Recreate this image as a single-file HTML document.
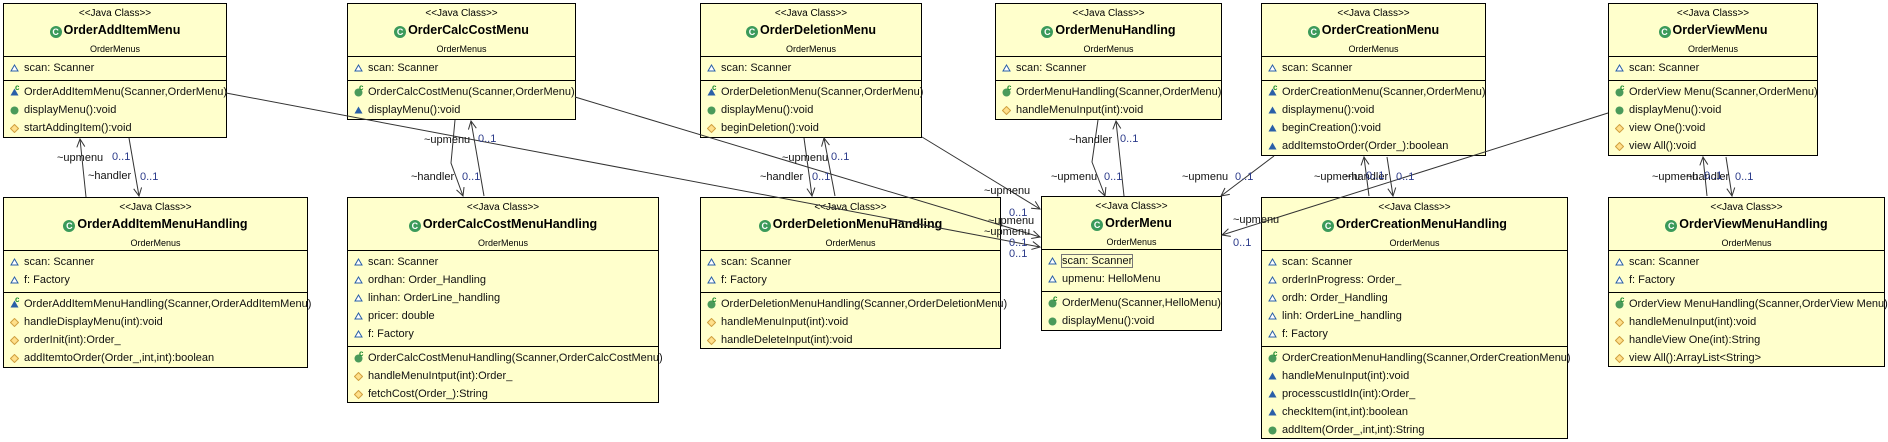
<!DOCTYPE html>
<html><head><meta charset="utf-8"><style>
body{margin:0;width:1888px;height:442px;background:#fff;position:relative;overflow:hidden;font-family:"Liberation Sans",Arial,sans-serif;}
.b{position:absolute;background:#ffffcc;border:1px solid #000;box-sizing:border-box;}
.h{height:52px;border-bottom:1px solid #000;text-align:center;position:relative}
.st{position:absolute;left:0;right:0;top:4px;font-size:10px;line-height:12px}
.t{position:absolute;left:0;right:0;top:19px;font-size:12.5px;font-weight:bold;line-height:15px}
.p{position:absolute;left:0;right:0;top:40px;font-size:9px;line-height:10px}
.g{display:inline-block;width:12px;height:12px;border-radius:50%;background:#3b9a5a;color:#fff;font-size:9px;line-height:12px;vertical-align:-1px;margin-right:2px;font-weight:bold;text-align:center}
.s{border-bottom:1px solid #000;padding:2px 0 3px 0}
.s:last-child{border-bottom:none}
.r{height:18px;line-height:18px;font-size:11px;white-space:nowrap;padding-left:20px;position:relative;color:#111}
.r svg{position:absolute;left:6px;top:5px}
.k{position:absolute;left:11px;top:-4px;font-size:8px;color:#1a8a2a;font-weight:bold}
.l{position:absolute;font-size:11px;line-height:12px;white-space:nowrap;color:#111}
.m{color:#2b3a8a}
</style></head><body>
<svg width="1888" height="442" style="position:absolute;left:0;top:0;z-index:2;pointer-events:none" fill="none" stroke="#333" stroke-width="1">
<defs><marker id="a" markerWidth="10" markerHeight="10" refX="9" refY="5" orient="auto" markerUnits="userSpaceOnUse"><path d="M1,1 L9,5 L1,9" stroke="#333" fill="none"/></marker></defs>
<line x1="86" y1="197" x2="80" y2="139" marker-end="url(#a)"/>
<line x1="129" y1="138" x2="139" y2="196" marker-end="url(#a)"/>
<line x1="226" y1="93" x2="1040" y2="247" marker-end="url(#a)"/>
<line x1="575" y1="97" x2="1040" y2="237" marker-end="url(#a)"/>
<polyline points="455,120 451,163 463,196" marker-end="url(#a)"/>
<line x1="484" y1="196" x2="471" y2="121" marker-end="url(#a)"/>
<line x1="804" y1="138" x2="812" y2="196" marker-end="url(#a)"/>
<line x1="835" y1="196" x2="824" y2="138" marker-end="url(#a)"/>
<line x1="922" y1="137" x2="1040" y2="209" marker-end="url(#a)"/>
<polyline points="1098,120 1092,162 1105,196" marker-end="url(#a)"/>
<line x1="1124" y1="196" x2="1116" y2="121" marker-end="url(#a)"/>
<line x1="1274" y1="156" x2="1221" y2="196" marker-end="url(#a)"/>
<line x1="1608" y1="113" x2="1222" y2="235" marker-end="url(#a)"/>
<line x1="1369" y1="196" x2="1364" y2="157" marker-end="url(#a)"/>
<line x1="1387" y1="157" x2="1393" y2="196" marker-end="url(#a)"/>
<line x1="1707" y1="196" x2="1703" y2="157" marker-end="url(#a)"/>
<line x1="1726" y1="157" x2="1732" y2="196" marker-end="url(#a)"/>
</svg>

<div id="boxes"></div>

<!-- icons defined as small svgs -->
<div class="b" style="left:3px;top:3px;width:224px;height:135px"><div class="h"><div class="st">&lt;&lt;Java Class&gt;&gt;</div><div class="t"><span class="g">C</span>OrderAddItemMenu</div><div class="p">OrderMenus</div></div>
<div class="s"><div class="r"><svg width="9" height="8"><path d="M4.5,1 L8,7 L1,7Z" fill="#fff" stroke="#2a5fa8"/></svg>scan: Scanner</div></div>
<div class="s"><div class="r"><svg width="9" height="8"><path d="M4.5,0.5 L8.5,7.5 L0.5,7.5Z" fill="#2a5fa8"/></svg><span class="k">c</span>OrderAddItemMenu(Scanner,OrderMenu)</div>
<div class="r"><svg width="9" height="9"><circle cx="4.5" cy="4.5" r="4" fill="#4a9a5a"/></svg>displayMenu():void</div>
<div class="r"><svg width="9" height="9"><path d="M4.5,0.5 L8.5,4.5 L4.5,8.5 L0.5,4.5Z" fill="#ffe08a" stroke="#d0a040"/></svg>startAddingItem():void</div></div></div>

<div class="b" style="left:347px;top:3px;width:229px;height:117px"><div class="h"><div class="st">&lt;&lt;Java Class&gt;&gt;</div><div class="t"><span class="g">C</span>OrderCalcCostMenu</div><div class="p">OrderMenus</div></div>
<div class="s"><div class="r"><svg width="9" height="8"><path d="M4.5,1 L8,7 L1,7Z" fill="#fff" stroke="#2a5fa8"/></svg>scan: Scanner</div></div>
<div class="s"><div class="r"><svg width="9" height="9"><circle cx="4.5" cy="4.5" r="4" fill="#4a9a5a"/></svg><span class="k">c</span>OrderCalcCostMenu(Scanner,OrderMenu)</div>
<div class="r"><svg width="9" height="8"><path d="M4.5,0.5 L8.5,7.5 L0.5,7.5Z" fill="#2a5fa8"/></svg>displayMenu():void</div></div></div>

<div class="b" style="left:700px;top:3px;width:222px;height:135px"><div class="h"><div class="st">&lt;&lt;Java Class&gt;&gt;</div><div class="t"><span class="g">C</span>OrderDeletionMenu</div><div class="p">OrderMenus</div></div>
<div class="s"><div class="r"><svg width="9" height="8"><path d="M4.5,1 L8,7 L1,7Z" fill="#fff" stroke="#2a5fa8"/></svg>scan: Scanner</div></div>
<div class="s"><div class="r"><svg width="9" height="8"><path d="M4.5,0.5 L8.5,7.5 L0.5,7.5Z" fill="#2a5fa8"/></svg><span class="k">c</span>OrderDeletionMenu(Scanner,OrderMenu)</div>
<div class="r"><svg width="9" height="9"><circle cx="4.5" cy="4.5" r="4" fill="#4a9a5a"/></svg>displayMenu():void</div>
<div class="r"><svg width="9" height="9"><path d="M4.5,0.5 L8.5,4.5 L4.5,8.5 L0.5,4.5Z" fill="#ffe08a" stroke="#d0a040"/></svg>beginDeletion():void</div></div></div>

<div class="b" style="left:995px;top:3px;width:227px;height:117px"><div class="h"><div class="st">&lt;&lt;Java Class&gt;&gt;</div><div class="t"><span class="g">C</span>OrderMenuHandling</div><div class="p">OrderMenus</div></div>
<div class="s"><div class="r"><svg width="9" height="8"><path d="M4.5,1 L8,7 L1,7Z" fill="#fff" stroke="#2a5fa8"/></svg>scan: Scanner</div></div>
<div class="s"><div class="r"><svg width="9" height="9"><circle cx="4.5" cy="4.5" r="4" fill="#4a9a5a"/></svg><span class="k">c</span>OrderMenuHandling(Scanner,OrderMenu)</div>
<div class="r"><svg width="9" height="9"><path d="M4.5,0.5 L8.5,4.5 L4.5,8.5 L0.5,4.5Z" fill="#ffe08a" stroke="#d0a040"/></svg>handleMenuInput(int):void</div></div></div>

<div class="b" style="left:1261px;top:3px;width:225px;height:153px"><div class="h"><div class="st">&lt;&lt;Java Class&gt;&gt;</div><div class="t"><span class="g">C</span>OrderCreationMenu</div><div class="p">OrderMenus</div></div>
<div class="s"><div class="r"><svg width="9" height="8"><path d="M4.5,1 L8,7 L1,7Z" fill="#fff" stroke="#2a5fa8"/></svg>scan: Scanner</div></div>
<div class="s"><div class="r"><svg width="9" height="8"><path d="M4.5,0.5 L8.5,7.5 L0.5,7.5Z" fill="#2a5fa8"/></svg><span class="k">c</span>OrderCreationMenu(Scanner,OrderMenu)</div>
<div class="r"><svg width="9" height="8"><path d="M4.5,0.5 L8.5,7.5 L0.5,7.5Z" fill="#2a5fa8"/></svg>displaymenu():void</div>
<div class="r"><svg width="9" height="8"><path d="M4.5,0.5 L8.5,7.5 L0.5,7.5Z" fill="#2a5fa8"/></svg>beginCreation():void</div>
<div class="r"><svg width="9" height="8"><path d="M4.5,0.5 L8.5,7.5 L0.5,7.5Z" fill="#2a5fa8"/></svg>addItemstoOrder(Order_):boolean</div></div></div>

<div class="b" style="left:1608px;top:3px;width:210px;height:153px"><div class="h"><div class="st">&lt;&lt;Java Class&gt;&gt;</div><div class="t"><span class="g">C</span>OrderViewMenu</div><div class="p">OrderMenus</div></div>
<div class="s"><div class="r"><svg width="9" height="8"><path d="M4.5,1 L8,7 L1,7Z" fill="#fff" stroke="#2a5fa8"/></svg>scan: Scanner</div></div>
<div class="s"><div class="r"><svg width="9" height="9"><circle cx="4.5" cy="4.5" r="4" fill="#4a9a5a"/></svg><span class="k">c</span>OrderView Menu(Scanner,OrderMenu)</div>
<div class="r"><svg width="9" height="9"><circle cx="4.5" cy="4.5" r="4" fill="#4a9a5a"/></svg>displayMenu():void</div>
<div class="r"><svg width="9" height="9"><path d="M4.5,0.5 L8.5,4.5 L4.5,8.5 L0.5,4.5Z" fill="#ffe08a" stroke="#d0a040"/></svg>view One():void</div>
<div class="r"><svg width="9" height="9"><path d="M4.5,0.5 L8.5,4.5 L4.5,8.5 L0.5,4.5Z" fill="#ffe08a" stroke="#d0a040"/></svg>view All():void</div></div></div>

<div class="b" style="left:3px;top:197px;width:305px;height:171px"><div class="h"><div class="st">&lt;&lt;Java Class&gt;&gt;</div><div class="t"><span class="g">C</span>OrderAddItemMenuHandling</div><div class="p">OrderMenus</div></div>
<div class="s"><div class="r"><svg width="9" height="8"><path d="M4.5,1 L8,7 L1,7Z" fill="#fff" stroke="#2a5fa8"/></svg>scan: Scanner</div>
<div class="r"><svg width="9" height="8"><path d="M4.5,1 L8,7 L1,7Z" fill="#fff" stroke="#2a5fa8"/></svg>f: Factory</div></div>
<div class="s"><div class="r"><svg width="9" height="8"><path d="M4.5,0.5 L8.5,7.5 L0.5,7.5Z" fill="#2a5fa8"/></svg><span class="k">c</span>OrderAddItemMenuHandling(Scanner,OrderAddItemMenu)</div>
<div class="r"><svg width="9" height="9"><path d="M4.5,0.5 L8.5,4.5 L4.5,8.5 L0.5,4.5Z" fill="#ffe08a" stroke="#d0a040"/></svg>handleDisplayMenu(int):void</div>
<div class="r"><svg width="9" height="9"><path d="M4.5,0.5 L8.5,4.5 L4.5,8.5 L0.5,4.5Z" fill="#ffe08a" stroke="#d0a040"/></svg>orderInit(int):Order_</div>
<div class="r"><svg width="9" height="9"><path d="M4.5,0.5 L8.5,4.5 L4.5,8.5 L0.5,4.5Z" fill="#ffe08a" stroke="#d0a040"/></svg>addItemtoOrder(Order_,int,int):boolean</div></div></div>

<div class="b" style="left:347px;top:197px;width:312px;height:206px"><div class="h"><div class="st">&lt;&lt;Java Class&gt;&gt;</div><div class="t"><span class="g">C</span>OrderCalcCostMenuHandling</div><div class="p">OrderMenus</div></div>
<div class="s"><div class="r"><svg width="9" height="8"><path d="M4.5,1 L8,7 L1,7Z" fill="#fff" stroke="#2a5fa8"/></svg>scan: Scanner</div>
<div class="r"><svg width="9" height="8"><path d="M4.5,1 L8,7 L1,7Z" fill="#fff" stroke="#2a5fa8"/></svg>ordhan: Order_Handling</div>
<div class="r"><svg width="9" height="8"><path d="M4.5,1 L8,7 L1,7Z" fill="#fff" stroke="#2a5fa8"/></svg>linhan: OrderLine_handling</div>
<div class="r"><svg width="9" height="8"><path d="M4.5,1 L8,7 L1,7Z" fill="#fff" stroke="#2a5fa8"/></svg>pricer: double</div>
<div class="r"><svg width="9" height="8"><path d="M4.5,1 L8,7 L1,7Z" fill="#fff" stroke="#2a5fa8"/></svg>f: Factory</div></div>
<div class="s"><div class="r"><svg width="9" height="9"><circle cx="4.5" cy="4.5" r="4" fill="#4a9a5a"/></svg><span class="k">c</span>OrderCalcCostMenuHandling(Scanner,OrderCalcCostMenu)</div>
<div class="r"><svg width="9" height="9"><path d="M4.5,0.5 L8.5,4.5 L4.5,8.5 L0.5,4.5Z" fill="#ffe08a" stroke="#d0a040"/></svg>handleMenuIntput(int):Order_</div>
<div class="r"><svg width="9" height="9"><path d="M4.5,0.5 L8.5,4.5 L4.5,8.5 L0.5,4.5Z" fill="#ffe08a" stroke="#d0a040"/></svg>fetchCost(Order_):String</div></div></div>

<div class="b" style="left:700px;top:197px;width:301px;height:152px"><div class="h"><div class="st">&lt;&lt;Java Class&gt;&gt;</div><div class="t"><span class="g">C</span>OrderDeletionMenuHandling</div><div class="p">OrderMenus</div></div>
<div class="s"><div class="r"><svg width="9" height="8"><path d="M4.5,1 L8,7 L1,7Z" fill="#fff" stroke="#2a5fa8"/></svg>scan: Scanner</div>
<div class="r"><svg width="9" height="8"><path d="M4.5,1 L8,7 L1,7Z" fill="#fff" stroke="#2a5fa8"/></svg>f: Factory</div></div>
<div class="s"><div class="r"><svg width="9" height="9"><circle cx="4.5" cy="4.5" r="4" fill="#4a9a5a"/></svg><span class="k">c</span>OrderDeletionMenuHandling(Scanner,OrderDeletionMenu)</div>
<div class="r"><svg width="9" height="9"><path d="M4.5,0.5 L8.5,4.5 L4.5,8.5 L0.5,4.5Z" fill="#ffe08a" stroke="#d0a040"/></svg>handleMenuInput(int):void</div>
<div class="r"><svg width="9" height="9"><path d="M4.5,0.5 L8.5,4.5 L4.5,8.5 L0.5,4.5Z" fill="#ffe08a" stroke="#d0a040"/></svg>handleDeleteInput(int):void</div></div></div>

<div class="b" style="left:1041px;top:196px;width:181px;height:135px"><div class="h"><div class="st">&lt;&lt;Java Class&gt;&gt;</div><div class="t"><span class="g">C</span>OrderMenu</div><div class="p">OrderMenus</div></div>
<div class="s"><div class="r"><svg width="9" height="8"><path d="M4.5,1 L8,7 L1,7Z" fill="#fff" stroke="#2a5fa8"/></svg><span style="outline:1px solid #777;outline-offset:0">scan: Scanner</span></div>
<div class="r"><svg width="9" height="8"><path d="M4.5,1 L8,7 L1,7Z" fill="#fff" stroke="#2a5fa8"/></svg>upmenu: HelloMenu</div></div>
<div class="s"><div class="r"><svg width="9" height="9"><circle cx="4.5" cy="4.5" r="4" fill="#4a9a5a"/></svg><span class="k">c</span>OrderMenu(Scanner,HelloMenu)</div>
<div class="r"><svg width="9" height="9"><circle cx="4.5" cy="4.5" r="4" fill="#4a9a5a"/></svg>displayMenu():void</div></div></div>

<div class="b" style="left:1261px;top:197px;width:307px;height:242px"><div class="h"><div class="st">&lt;&lt;Java Class&gt;&gt;</div><div class="t"><span class="g">C</span>OrderCreationMenuHandling</div><div class="p">OrderMenus</div></div>
<div class="s"><div class="r"><svg width="9" height="8"><path d="M4.5,1 L8,7 L1,7Z" fill="#fff" stroke="#2a5fa8"/></svg>scan: Scanner</div>
<div class="r"><svg width="9" height="8"><path d="M4.5,1 L8,7 L1,7Z" fill="#fff" stroke="#2a5fa8"/></svg>orderInProgress: Order_</div>
<div class="r"><svg width="9" height="8"><path d="M4.5,1 L8,7 L1,7Z" fill="#fff" stroke="#2a5fa8"/></svg>ordh: Order_Handling</div>
<div class="r"><svg width="9" height="8"><path d="M4.5,1 L8,7 L1,7Z" fill="#fff" stroke="#2a5fa8"/></svg>linh: OrderLine_handling</div>
<div class="r"><svg width="9" height="8"><path d="M4.5,1 L8,7 L1,7Z" fill="#fff" stroke="#2a5fa8"/></svg>f: Factory</div></div>
<div class="s"><div class="r"><svg width="9" height="9"><circle cx="4.5" cy="4.5" r="4" fill="#4a9a5a"/></svg><span class="k">c</span>OrderCreationMenuHandling(Scanner,OrderCreationMenu)</div>
<div class="r"><svg width="9" height="8"><path d="M4.5,0.5 L8.5,7.5 L0.5,7.5Z" fill="#2a5fa8"/></svg>handleMenuInput(int):void</div>
<div class="r"><svg width="9" height="8"><path d="M4.5,0.5 L8.5,7.5 L0.5,7.5Z" fill="#2a5fa8"/></svg>processcustIdIn(int):Order_</div>
<div class="r"><svg width="9" height="8"><path d="M4.5,0.5 L8.5,7.5 L0.5,7.5Z" fill="#2a5fa8"/></svg>checkItem(int,int):boolean</div>
<div class="r"><svg width="9" height="9"><circle cx="4.5" cy="4.5" r="4" fill="#4a9a5a"/></svg>addItem(Order_,int,int):String</div></div></div>

<div class="b" style="left:1608px;top:197px;width:277px;height:170px"><div class="h"><div class="st">&lt;&lt;Java Class&gt;&gt;</div><div class="t"><span class="g">C</span>OrderViewMenuHandling</div><div class="p">OrderMenus</div></div>
<div class="s"><div class="r"><svg width="9" height="8"><path d="M4.5,1 L8,7 L1,7Z" fill="#fff" stroke="#2a5fa8"/></svg>scan: Scanner</div>
<div class="r"><svg width="9" height="8"><path d="M4.5,1 L8,7 L1,7Z" fill="#fff" stroke="#2a5fa8"/></svg>f: Factory</div></div>
<div class="s"><div class="r"><svg width="9" height="9"><circle cx="4.5" cy="4.5" r="4" fill="#4a9a5a"/></svg><span class="k">c</span>OrderView MenuHandling(Scanner,OrderView Menu)</div>
<div class="r"><svg width="9" height="9"><path d="M4.5,0.5 L8.5,4.5 L4.5,8.5 L0.5,4.5Z" fill="#ffe08a" stroke="#d0a040"/></svg>handleMenuInput(int):void</div>
<div class="r"><svg width="9" height="9"><path d="M4.5,0.5 L8.5,4.5 L4.5,8.5 L0.5,4.5Z" fill="#ffe08a" stroke="#d0a040"/></svg>handleView One(int):String</div>
<div class="r"><svg width="9" height="9"><path d="M4.5,0.5 L8.5,4.5 L4.5,8.5 L0.5,4.5Z" fill="#ffe08a" stroke="#d0a040"/></svg>view All():ArrayList&lt;String&gt;</div></div></div>

<div style="position:absolute;left:0;top:0;z-index:3">
<div class="l" style="left:57px;top:152px">~upmenu</div><div class="l m" style="left:112px;top:151px">0..1</div>
<div class="l" style="left:88px;top:170px">~handler</div><div class="l m" style="left:140px;top:171px">0..1</div>
<div class="l" style="left:424px;top:134px">~upmenu</div><div class="l m" style="left:478px;top:133px">0..1</div>
<div class="l" style="left:411px;top:171px">~handler</div><div class="l m" style="left:462px;top:171px">0..1</div>
<div class="l" style="left:782px;top:152px">~upmenu</div><div class="l m" style="left:831px;top:151px">0..1</div>
<div class="l" style="left:760px;top:171px">~handler</div><div class="l m" style="left:812px;top:171px">0..1</div>
<div class="l" style="left:984px;top:185px">~upmenu</div><div class="l m" style="left:1009px;top:207px">0..1</div>
<div class="l" style="left:988px;top:215px">~upmenu</div><div class="l" style="left:984px;top:226px">~upmenu</div>
<div class="l m" style="left:1009px;top:237px">0..1</div><div class="l m" style="left:1009px;top:248px">0..1</div>
<div class="l" style="left:1069px;top:134px">~handler</div><div class="l m" style="left:1120px;top:133px">0..1</div>
<div class="l" style="left:1051px;top:171px">~upmenu</div><div class="l m" style="left:1104px;top:171px">0..1</div>
<div class="l" style="left:1182px;top:171px">~upmenu</div><div class="l m" style="left:1235px;top:171px">0..1</div>
<div class="l" style="left:1233px;top:214px">~upmenu</div><div class="l m" style="left:1233px;top:237px">0..1</div>
<div class="l" style="left:1314px;top:171px">~upmenu</div><div class="l" style="left:1345px;top:171px">~handler</div><div class="l m" style="left:1366px;top:170px">0..1</div><div class="l m" style="left:1396px;top:171px">0..1</div>
<div class="l" style="left:1652px;top:171px">~upmenu</div><div class="l" style="left:1686px;top:171px">~handler</div><div class="l m" style="left:1704px;top:170px">0..1</div><div class="l m" style="left:1735px;top:171px">0..1</div>
</div>
</body></html>
